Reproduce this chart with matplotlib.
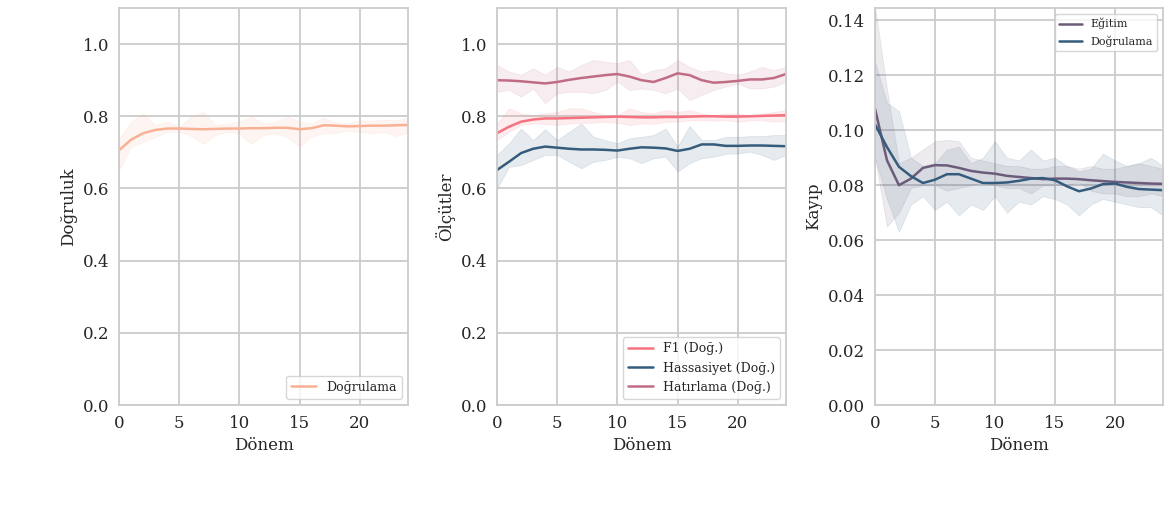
import matplotlib
matplotlib.use('Agg')
import matplotlib.pyplot as plt
import seaborn as sns

sns.set_style('whitegrid')
plt.rcParams['font.family'] = ['DejaVu Serif']

epochs = list(range(25))

# dogruluk (validation accuracy): mean and band
acc_val = [0.706, 0.735, 0.753, 0.762, 0.766, 0.766, 0.765, 0.764, 0.765, 0.766, 0.766, 0.767, 0.767,
           0.768, 0.768, 0.764, 0.767, 0.775, 0.774, 0.772, 0.773, 0.774, 0.774, 0.775, 0.776]
acc_val_hi = [0.734, 0.785, 0.808, 0.776, 0.785, 0.771, 0.799, 0.812, 0.776, 0.780, 0.785, 0.799, 0.780,
              0.785, 0.799, 0.785, 0.780, 0.797, 0.782, 0.780, 0.789, 0.787, 0.791, 0.789, 0.797]
acc_val_lo = [0.651, 0.716, 0.729, 0.743, 0.757, 0.757, 0.745, 0.723, 0.748, 0.757, 0.752, 0.723, 0.748,
              0.752, 0.741, 0.716, 0.745, 0.752, 0.754, 0.760, 0.757, 0.752, 0.757, 0.745, 0.754]

# olcutler: F1 / hassasiyet / hatirlama on validation
f1_val = [0.753, 0.771, 0.785, 0.791, 0.794, 0.794, 0.795, 0.796, 0.797, 0.798, 0.799, 0.798, 0.797,
          0.797, 0.798, 0.798, 0.799, 0.800, 0.800, 0.799, 0.799, 0.800, 0.801, 0.802, 0.803]
f1_val_hi = [0.780, 0.822, 0.808, 0.803, 0.808, 0.812, 0.822, 0.822, 0.812, 0.803, 0.803, 0.822, 0.812,
             0.808, 0.817, 0.812, 0.817, 0.808, 0.803, 0.808, 0.808, 0.803, 0.808, 0.812, 0.817]
f1_val_lo = [0.734, 0.757, 0.776, 0.780, 0.779, 0.776, 0.780, 0.782, 0.782, 0.785, 0.782, 0.776, 0.780,
             0.779, 0.785, 0.785, 0.789, 0.789, 0.788, 0.789, 0.785, 0.789, 0.789, 0.785, 0.788]

prec_val = [0.651, 0.674, 0.698, 0.710, 0.716, 0.713, 0.710, 0.708, 0.708, 0.707, 0.705, 0.710, 0.714,
            0.713, 0.711, 0.704, 0.710, 0.722, 0.722, 0.718, 0.718, 0.719, 0.719, 0.718, 0.717]
prec_val_hi = [0.693, 0.725, 0.766, 0.734, 0.764, 0.734, 0.757, 0.780, 0.743, 0.734, 0.725, 0.739, 0.743,
               0.748, 0.766, 0.716, 0.773, 0.734, 0.734, 0.743, 0.743, 0.745, 0.745, 0.748, 0.748]
prec_val_lo = [0.600, 0.660, 0.665, 0.679, 0.693, 0.693, 0.674, 0.656, 0.674, 0.679, 0.688, 0.684, 0.670,
               0.684, 0.688, 0.647, 0.670, 0.684, 0.688, 0.696, 0.697, 0.702, 0.693, 0.679, 0.693]

rec_val = [0.900, 0.899, 0.897, 0.894, 0.891, 0.895, 0.901, 0.906, 0.910, 0.914, 0.917, 0.910, 0.900,
           0.895, 0.906, 0.919, 0.914, 0.900, 0.893, 0.895, 0.898, 0.902, 0.902, 0.906, 0.917]
rec_val_hi = [0.942, 0.924, 0.915, 0.933, 0.915, 0.937, 0.924, 0.942, 0.956, 0.951, 0.947, 0.956, 0.915,
              0.928, 0.933, 0.956, 0.937, 0.924, 0.928, 0.919, 0.915, 0.924, 0.937, 0.928, 0.937]
rec_val_lo = [0.868, 0.873, 0.854, 0.877, 0.836, 0.864, 0.868, 0.868, 0.864, 0.873, 0.896, 0.873, 0.877,
              0.873, 0.864, 0.877, 0.845, 0.859, 0.873, 0.882, 0.891, 0.877, 0.877, 0.882, 0.896]

# kayip (loss): training / validation
loss_tr = [0.1079, 0.0891, 0.0800, 0.0824, 0.0863, 0.0873, 0.0872, 0.0863, 0.0852, 0.0846, 0.0842, 0.0834, 0.0830,
           0.0826, 0.0822, 0.0824, 0.0824, 0.0822, 0.0818, 0.0815, 0.0812, 0.0810, 0.0808, 0.0806, 0.0805]
loss_tr_hi = [0.145, 0.115, 0.088, 0.090, 0.093, 0.096, 0.0965, 0.096, 0.090, 0.089, 0.088, 0.087, 0.087,
              0.086, 0.086, 0.087, 0.087, 0.086, 0.087, 0.086, 0.086, 0.087, 0.088, 0.087, 0.086]
loss_tr_lo = [0.090, 0.065, 0.070, 0.079, 0.080, 0.080, 0.078, 0.079, 0.080, 0.081, 0.080, 0.079, 0.079,
              0.077, 0.080, 0.080, 0.080, 0.081, 0.078, 0.077, 0.077, 0.076, 0.076, 0.077, 0.076]

loss_val = [0.1022, 0.0939, 0.0867, 0.0833, 0.0808, 0.0820, 0.0840, 0.0840, 0.0824, 0.0808, 0.0808, 0.0810, 0.0816,
            0.0824, 0.0826, 0.0818, 0.0796, 0.0778, 0.0788, 0.0804, 0.0806, 0.0794, 0.0786, 0.0784, 0.0782]
loss_val_hi = [0.125, 0.110, 0.107, 0.090, 0.087, 0.088, 0.093, 0.094, 0.088, 0.090, 0.096, 0.090, 0.089,
               0.093, 0.089, 0.090, 0.087, 0.085, 0.086, 0.0915, 0.089, 0.087, 0.088, 0.090, 0.087]
loss_val_lo = [0.090, 0.075, 0.063, 0.073, 0.076, 0.071, 0.074, 0.069, 0.073, 0.071, 0.076, 0.070, 0.074,
               0.073, 0.076, 0.075, 0.073, 0.069, 0.073, 0.075, 0.074, 0.073, 0.072, 0.072, 0.069]

c_peach = '#F8B195'
c_pink = '#F67280'
c_rose = '#C06C84'
c_plum = '#6C5B7B'
c_navy = '#355C7D'

fig = plt.figure(figsize=(11.68, 5.16), dpi=100)
ax1 = fig.add_axes([0.1019, 0.2151, 0.2474, 0.7694])
ax2 = fig.add_axes([0.4255, 0.2151, 0.2474, 0.7694])
ax3 = fig.add_axes([0.7491, 0.2151, 0.2466, 0.7694])


def band(ax, mean, lo, hi, color, label):
    ax.plot(epochs, mean, color=color, lw=1.8, label=label)
    ax.fill_between(epochs, lo, hi, color=color, alpha=0.12, lw=0.6)


band(ax1, acc_val, acc_val_lo, acc_val_hi, c_peach, 'Doğrulama')
ax1.set_ylim(0, 1.1)
ax1.set_ylabel('Doğruluk', fontsize=12)
ax1.legend(loc='lower right', fontsize=9)

band(ax2, f1_val, f1_val_lo, f1_val_hi, c_pink, 'F1 (Doğ.)')
band(ax2, prec_val, prec_val_lo, prec_val_hi, c_navy, 'Hassasiyet (Doğ.)')
band(ax2, rec_val, rec_val_lo, rec_val_hi, c_rose, 'Hatırlama (Doğ.)')
ax2.set_ylim(0, 1.1)
ax2.set_ylabel('Ölçütler', fontsize=12)
ax2.legend(loc='lower right', fontsize=9)

band(ax3, loss_tr, loss_tr_lo, loss_tr_hi, c_plum, 'Eğitim')
band(ax3, loss_val, loss_val_lo, loss_val_hi, c_navy, 'Doğrulama')
ax3.set_ylim(0, 0.1445)
ax3.set_ylabel('Kayıp', fontsize=12)
ax3.legend(loc='upper right', fontsize=8)

for ax in (ax1, ax2, ax3):
    ax.set_xlim(0, 24)
    ax.set_xticks([0, 5, 10, 15, 20])
    ax.set_xlabel('Dönem', fontsize=12)
    ax.tick_params(labelsize=12)
    ax.grid(True, color='#cccccc', lw=1.3)
    for s in ax.spines.values():
        s.set_color('#cccccc')
        s.set_linewidth(1.3)

fig.savefig('out.png', dpi=100)
